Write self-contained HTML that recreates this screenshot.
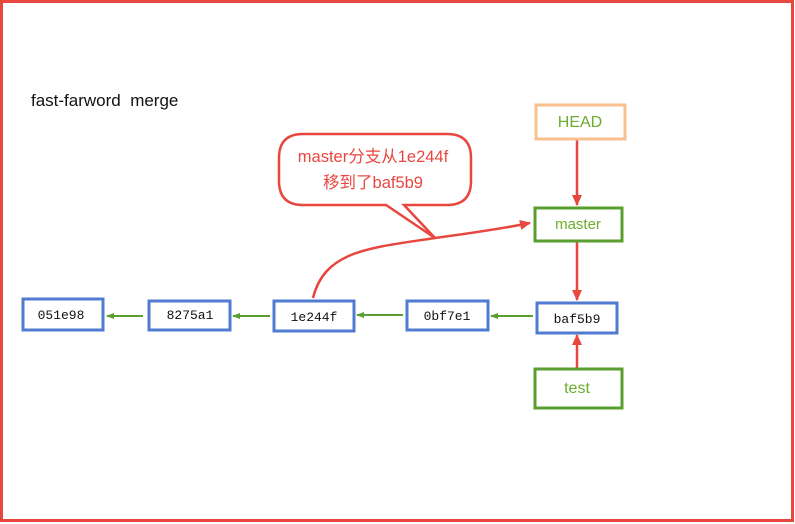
<!DOCTYPE html>
<html><head><meta charset="utf-8"><style>
html,body{margin:0;padding:0;background:#fff;}
svg{display:block;}
.mono{font-family:"Liberation Mono",monospace;font-size:13px;fill:#111;}
.sans{font-family:"Liberation Sans","Noto Sans CJK SC",sans-serif;}
</style></head><body>
<svg width="795" height="524" viewBox="0 0 795 524">
<defs>
<marker id="g" markerWidth="8" markerHeight="8" refX="7" refY="4" orient="auto" markerUnits="userSpaceOnUse"><path d="M0,1 L8,4 L0,7 z" fill="#5a9e2f"/></marker>
<marker id="r" markerWidth="12" markerHeight="12" refX="10" refY="6" orient="auto" markerUnits="userSpaceOnUse"><path d="M0,1 L11,6 L0,11 z" fill="#e8473f"/></marker>
</defs>
<rect x="1.5" y="1.5" width="791" height="519" fill="#fff" stroke="#e8473f" stroke-width="3"/>
<text x="31" y="106" class="sans" font-size="17" fill="#111" style="white-space:pre">fast-farword  merge</text>

<!-- callout -->
<path d="M305,134 H447 Q471,134 471,158 V181 Q471,205 447,205 H404 L435,238 L386,205 H303 Q279,205 279,181 V158 Q279,134 303,134 Z" fill="#fff" stroke="#e8473f" stroke-width="2.5"/>
<text x="373" y="162" class="sans" font-size="16.5" fill="#e8473f" text-anchor="middle">master分支从1e244f</text>
<text x="373" y="188" class="sans" font-size="16.5" fill="#e8473f" text-anchor="middle">移到了baf5b9</text>
<path d="M313,298 C325,250 370,248 435,238 C480,232 505,228 530,223" fill="none" stroke="#e8473f" stroke-width="2.5" marker-end="url(#r)"/>

<!-- green arrows -->
<line x1="143" y1="316" x2="107" y2="316" stroke="#5a9e2f" stroke-width="2" marker-end="url(#g)"/>
<line x1="270" y1="316" x2="233" y2="316" stroke="#5a9e2f" stroke-width="2" marker-end="url(#g)"/>
<line x1="403" y1="315" x2="357" y2="315" stroke="#5a9e2f" stroke-width="2" marker-end="url(#g)"/>
<line x1="533" y1="316" x2="491" y2="316" stroke="#5a9e2f" stroke-width="2" marker-end="url(#g)"/>

<!-- red arrows -->
<line x1="577" y1="140" x2="577" y2="205" stroke="#e8473f" stroke-width="2.5" marker-end="url(#r)"/>
<line x1="577" y1="242" x2="577" y2="300" stroke="#e8473f" stroke-width="2.5" marker-end="url(#r)"/>
<line x1="577" y1="368" x2="577" y2="335" stroke="#e8473f" stroke-width="2.5" marker-end="url(#r)"/>

<!-- blue boxes -->
<g fill="#fff" stroke="#4f7bd0" stroke-width="3">
<rect x="23" y="299" width="80" height="31"/>
<rect x="149" y="301" width="81" height="29"/>
<rect x="274" y="301" width="80" height="30"/>
<rect x="407" y="301" width="81" height="29"/>
<rect x="537" y="303" width="80" height="30"/>
</g>
<text x="61" y="319" class="mono" text-anchor="middle">051e98</text>
<text x="190" y="319" class="mono" text-anchor="middle">8275a1</text>
<text x="314" y="321" class="mono" text-anchor="middle">1e244f</text>
<text x="447" y="320" class="mono" text-anchor="middle">0bf7e1</text>
<text x="577" y="323" class="mono" text-anchor="middle">baf5b9</text>

<rect x="536" y="105" width="89" height="34" fill="#fff" stroke="#f8bf8f" stroke-width="3"/>
<text x="580" y="127" class="sans" font-size="16" fill="#6aad2f" text-anchor="middle">HEAD</text>
<rect x="535" y="208" width="87" height="33" fill="#fff" stroke="#5a9e2f" stroke-width="3"/>
<text x="578" y="229" class="sans" font-size="15" fill="#6aad2f" text-anchor="middle">master</text>
<rect x="535" y="369" width="87" height="39" fill="#fff" stroke="#5a9e2f" stroke-width="3"/>
<text x="577" y="393" class="sans" font-size="16" fill="#6aad2f" text-anchor="middle">test</text>
</svg>
</body></html>
